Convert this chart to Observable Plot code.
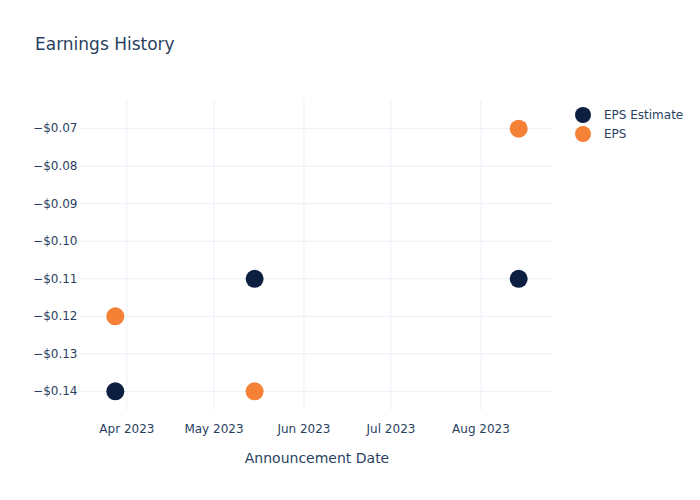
<!DOCTYPE html>
<html>
<head>
<meta charset="utf-8">
<script src="https://cdn.jsdelivr.net/npm/d3@7"></script>
<script src="https://cdn.jsdelivr.net/npm/@observablehq/plot@0.6"></script>
<style>
  body { margin: 0; background: #fff; font-family: "DejaVu Sans", Verdana, sans-serif; }
  #wrap { position: relative; width: 700px; height: 500px; }
  #title { position: absolute; left: 35px; top: 34px; font-size: 17px; color: #2a3f5f; }
  #legend { position: absolute; left: 574px; top: 105px; font-size: 12px; color: #2a3f5f; }
  .li { display: flex; align-items: center; height: 19px; }
  .li svg { margin-right: 12px; }
  #chart { position: absolute; left: 0; top: 70px; }
  #chart svg text { fill: #2a3f5f; }
</style>
</head>
<body>
<div id="wrap">
  <div id="title">Earnings History</div>
  <div id="chart"></div>
  <div id="legend"></div>
</div>
<script>
const dates = ["2023-03-28", "2023-05-15", "2023-08-14"];
const epsEstimate = [-0.14, -0.11, -0.11];
const epsActual = [-0.12, -0.14, -0.07];
const seriesNames = ["EPS Estimate", "EPS"];
const seriesColors = ["#0c1f40", "#f58137"];
const yTicks = [-0.14, -0.13, -0.12, -0.11, -0.10, -0.09, -0.08, -0.07];
const xTicks = ["2023-04-01", "2023-05-01", "2023-06-01", "2023-07-01", "2023-08-01"];
const xDomain = ["2023-03-16", "2023-08-26"];
const yDomain = [-0.1451, -0.0625];

const parse = d3.utcParse("%Y-%m-%d");
const rows = [];
dates.forEach((d, i) => {
  rows.push({date: parse(d), value: epsEstimate[i], series: seriesNames[0]});
});
dates.forEach((d, i) => {
  rows.push({date: parse(d), value: epsActual[i], series: seriesNames[1]});
});
const xt = xTicks.map(parse);
const fmtY = d3.format("$.2f");
const grid = "#ebf0f8";
const textColor = "#2a3f5f";

const chart = Plot.plot({
  width: 700,
  height: 430,
  marginTop: 30,
  marginBottom: 90,
  marginLeft: 80,
  marginRight: 147,
  style: { fontFamily: "DejaVu Sans, Verdana, sans-serif", color: textColor, background: "#fff" },
  x: { type: "utc", domain: xDomain.map(parse) },
  y: { domain: yDomain },
  color: { domain: seriesNames, range: seriesColors },
  marks: [
    Plot.ruleX(xt, { stroke: grid, strokeWidth: 1 }),
    Plot.ruleY(yTicks, { stroke: grid, strokeWidth: 1 }),
    Plot.axisY(yTicks, { tickSize: 0, tickPadding: 3, tickFormat: fmtY, fontSize: 12, label: null, fill: textColor }),
    Plot.axisX(xt, { tickSize: 0, tickPadding: 14, tickFormat: d3.utcFormat("%b %Y"), fontSize: 12, fill: textColor,
      label: "Announcement Date", labelAnchor: "center", labelOffset: 52, labelArrow: "none" }),
    Plot.dot(rows, { x: "date", y: "value", fill: "series", r: 9, stroke: "none" })
  ]
});
chart.querySelectorAll("[aria-label='x-axis label'] text, [aria-label='x-axis label']").forEach(e => e.setAttribute("font-size", "14"));
document.getElementById("chart").appendChild(chart);

const legend = document.getElementById("legend");
seriesNames.forEach((name, i) => {
  const div = document.createElement("div");
  div.className = "li";
  div.innerHTML = `<svg width="18" height="18"><circle cx="9" cy="9" r="8" fill="${seriesColors[i]}"/></svg><span>${name}</span>`;
  legend.appendChild(div);
});
</script>
</body>
</html>
